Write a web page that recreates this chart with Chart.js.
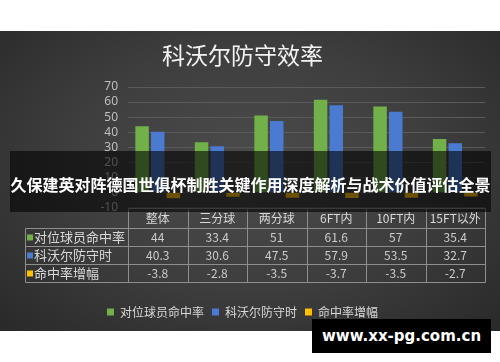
<!DOCTYPE html>
<html><head><meta charset="utf-8">
<script src="https://cdn.jsdelivr.net/npm/chart.js@4"></script>
<style>
html,body{margin:0;padding:0;background:#fff;width:500px;height:362px;overflow:hidden;}
#panel{position:absolute;left:0;top:31px;width:500px;height:300px;background:radial-gradient(ellipse 72% 80% at 50% 45%, #4c4c4c 0%, #3e3e3e 50%, #282828 100%);}
#banner{position:absolute;left:10px;top:151px;width:481px;height:61px;background:rgba(0,0,0,0.58);color:#fff;font:bold 16px "Noto Sans CJK SC";text-align:center;line-height:61px;white-space:nowrap;}
#banner span{position:relative;top:3px;}
#wm{position:absolute;left:312px;top:319px;width:179px;height:34px;background:#000;color:#fff;font:bold 15px "DejaVu Sans";text-align:center;line-height:34px;white-space:nowrap;}
</style></head>
<body>
<div id="panel"><canvas id="c" width="500" height="300"></canvas></div>
<div id="banner"><span>久保建英对阵德国世俱杯制胜关键作用深度解析与战术价值评估全景</span></div>
<div id="wm">www.xx-pg.com.cn</div>
<script>
const chartTitle = '科沃尔防守效率';
const categories = ['整体', '三分球', '两分球', '6FT内', '10FT内', '15FT以外'];
const seriesNames = ['对位球员命中率', '科沃尔防守时', '命中率增幅'];
const opponentFG = [44, 33.4, 51, 61.6, 57, 35.4];
const kovarDefense = [40.3, 30.6, 47.5, 57.9, 53.5, 32.7];
const fgChange = [-3.8, -2.8, -3.5, -3.7, -3.5, -2.7];
const yMin = -10, yMax = 70, yStep = 10;
const seriesColors = ['#72b04a', '#4a7bd0', '#ffc000'];

const CJK = '"Noto Sans CJK SC", "Noto Sans", sans-serif';
const seriesData = [opponentFG, kovarDefense, fgChange];

const tablePlugin = {
  id: 'dataTable',
  afterDatasetsDraw(chart) {
    const ctx = chart.ctx, xs = chart.scales.x, a = chart.chartArea;
    const n = categories.length;
    const w = (a.right - a.left) / n;
    const top = Math.round(a.bottom) + 0.5;
    const headH = 20, rowH = 18;
    const leftX = 25.5;
    const right = Math.round(a.right) + 0.5;
    const plotL = Math.round(a.left) + 0.5;
    const bottom = top + headH + rowH * seriesData.length;
    ctx.save();
    ctx.strokeStyle = '#8e8e8e';
    ctx.lineWidth = 1;
    ctx.beginPath();
    ctx.moveTo(plotL, top); ctx.lineTo(right, top);
    for (let r = 0; r <= seriesData.length; r++) {
      const y = top + headH + r * rowH;
      ctx.moveTo(leftX, y); ctx.lineTo(right, y);
    }
    ctx.moveTo(leftX, top + headH); ctx.lineTo(leftX, bottom);
    for (let i = 0; i <= n; i++) {
      const x = Math.round(xs.getPixelForValue(0) - w / 2 + i * w) + 0.5;
      ctx.moveTo(x, top); ctx.lineTo(x, bottom);
    }
    ctx.stroke();
    ctx.fillStyle = '#d9d9d9';
    ctx.textAlign = 'center';
    ctx.textBaseline = 'middle';
    ctx.font = '12px ' + CJK;
    categories.forEach((c, i) => {
      ctx.fillText(c, xs.getPixelForValue(i), top + headH / 2);
    });
    seriesData.forEach((arr, r) => {
      const cy = top + headH + r * rowH + rowH / 2;
      ctx.textAlign = 'center';
      ctx.font = '12px ' + CJK;
      ctx.fillStyle = '#cccccc';
      arr.forEach((v, i) => ctx.fillText(String(v), xs.getPixelForValue(i), cy));
      ctx.fillStyle = seriesColors[r];
      ctx.fillRect(27, cy - 3, 6, 6);
      ctx.textAlign = 'left';
      ctx.fillStyle = '#d9d9d9';
      ctx.font = '13px ' + CJK;
      ctx.fillText(seriesNames[r], 34, cy);
    });
    ctx.restore();
  }
};

new Chart(document.getElementById('c'), {
  type: 'bar',
  data: {
    labels: categories,
    datasets: seriesData.map((d, i) => ({
      label: seriesNames[i],
      data: d,
      backgroundColor: seriesColors[i],
      borderWidth: 0,
      categoryPercentage: 0.79,
      barPercentage: 0.86
    }))
  },
  options: {
    responsive: false,
    devicePixelRatio: 1,
    animation: false,
    layout: { padding: { top: 10.8, left: 0, right: 15, bottom: 3 } },
    plugins: {
      title: {
        display: true,
        text: chartTitle,
        color: '#f2f2f2',
        font: { family: CJK, size: 23, weight: 'normal', lineHeight: 26.4 / 23 },
        padding: { top: 0, bottom: 18.8 }
      },
      legend: {
        position: 'bottom',
        labels: {
          color: '#d9d9d9',
          font: { family: CJK, size: 12 },
          boxWidth: 7, boxHeight: 7, padding: 8
        }
      },
      tooltip: { enabled: false }
    },
    scales: {
      x: {
        grid: { display: false },
        border: { display: false },
        ticks: { display: false },
        afterFit(s) { s.height = 90.5; }
      },
      y: {
        min: yMin, max: yMax,
        ticks: { stepSize: yStep, autoSkip: false, color: '#bfbfbf', font: { family: '"Noto Sans", sans-serif', size: 12 }, padding: 10 },
        grid: { color: '#5a5a5a', drawTicks: false },
        border: { display: false },
        afterFit(s) { s.width = 128; }
      }
    }
  },
  plugins: [tablePlugin]
});
</script>
</body></html>
